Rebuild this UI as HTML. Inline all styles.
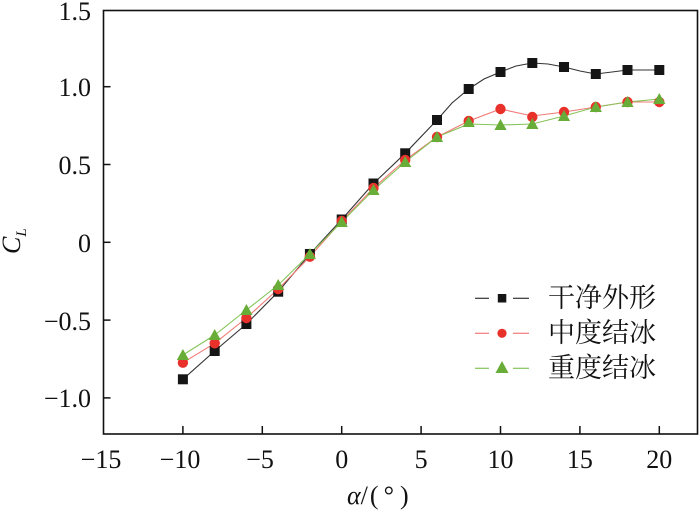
<!DOCTYPE html>
<html><head><meta charset="utf-8"><style>
html,body{margin:0;padding:0;background:#fff;}
svg{display:block;}
.t{font-family:"Liberation Serif","Times New Roman",Times,"Tinos","DejaVu Serif",serif;font-size:26px;fill:#111;}
.lg{font-family:"Liberation Serif","Noto Serif CJK SC","Noto Serif CJK JP","Noto Sans CJK SC",serif;font-size:27px;fill:#111;}
</style></head><body>
<svg width="700" height="510" viewBox="0 0 700 510" xmlns="http://www.w3.org/2000/svg">
<rect width="700" height="510" fill="#fff"/>
<rect x="103.5" y="10.5" width="594" height="423.5" fill="none" stroke="#111" stroke-width="1.6"/>
<g stroke="#111" stroke-width="1.5">
<line x1="103.5" y1="86.7" x2="110.5" y2="86.7"/>
<line x1="103.5" y1="164.5" x2="110.5" y2="164.5"/>
<line x1="103.5" y1="242.3" x2="110.5" y2="242.3"/>
<line x1="103.5" y1="320.1" x2="110.5" y2="320.1"/>
<line x1="103.5" y1="397.9" x2="110.5" y2="397.9"/>
<line x1="182.9" y1="434" x2="182.9" y2="426"/>
<line x1="262.3" y1="434" x2="262.3" y2="426"/>
<line x1="341.7" y1="434" x2="341.7" y2="426"/>
<line x1="421.1" y1="434" x2="421.1" y2="426"/>
<line x1="500.5" y1="434" x2="500.5" y2="426"/>
<line x1="579.9" y1="434" x2="579.9" y2="426"/>
<line x1="659.3" y1="434" x2="659.3" y2="426"/>
</g>
<g class="t" text-anchor="end">
<text x="91" y="20">1.5</text>
<text x="91" y="96">1.0</text>
<text x="91" y="174">0.5</text>
<text x="91" y="252">0</text>
<text x="91" y="330">−0.5</text>
<text x="91" y="407">−1.0</text>
</g>
<g class="t" text-anchor="middle">
<text x="101" y="468">−15</text>
<text x="180" y="468">−10</text>
<text x="260" y="468">−5</text>
<text x="341.7" y="468">0</text>
<text x="421.1" y="468">5</text>
<text x="500.5" y="468">10</text>
<text x="579.9" y="468">15</text>
<text x="659.3" y="468">20</text>
</g>
<text class="t" x="347" y="504"><tspan font-style="italic">α</tspan>/<tspan dx="2">(</tspan><tspan dx="5">°</tspan><tspan dx="6">)</tspan></text>
<text class="t" transform="translate(20,254) rotate(-90)" font-style="italic">C<tspan font-size="15" dy="6">L</tspan></text>

<polyline fill="none" stroke="#333" stroke-width="1.1" points="182.9,379.3 214.7,351 246.4,324 278.2,291.7 309.9,254 341.7,219.5 373.5,183.5 405.2,153.3 437,120 452,103 468.7,89 484,79 500.5,72 516,66 532.3,63 548,64 564,67 580,71 595.8,74 612,72 627.5,70 659.3,70"/>
<polyline fill="none" stroke="#f07a76" stroke-width="1.1" points="182.9,362.7 214.7,343.3 246.4,318 278.2,289 309.9,256.7 341.7,221 373.5,188 405.2,160 437,137 468.7,121 500.5,109 532.3,116 564,112 595.8,107 627.5,102 659.3,102"/>
<polyline fill="none" stroke="#86c45a" stroke-width="1.1" points="182.9,355 214.7,335 246.4,310 278.2,285 309.9,254 341.7,222 373.5,190 405.2,162 437,137 468.7,124 500.5,125 532.3,124 564,116 595.8,107 627.5,102 659.3,99"/>

<g fill="#151515">
<rect x="177.9" y="374.3" width="10" height="10"/>
<rect x="209.7" y="346" width="10" height="10"/>
<rect x="241.4" y="319" width="10" height="10"/>
<rect x="273.2" y="286.7" width="10" height="10"/>
<rect x="304.9" y="249" width="10" height="10"/>
<rect x="336.7" y="214.5" width="10" height="10"/>
<rect x="368.5" y="178.5" width="10" height="10"/>
<rect x="400.2" y="148.3" width="10" height="10"/>
<rect x="432" y="115" width="10" height="10"/>
<rect x="463.7" y="84" width="10" height="10"/>
<rect x="495.5" y="67" width="10" height="10"/>
<rect x="527.3" y="58" width="10" height="10"/>
<rect x="559" y="62" width="10" height="10"/>
<rect x="590.8" y="69" width="10" height="10"/>
<rect x="622.5" y="65" width="10" height="10"/>
<rect x="654.3" y="65" width="10" height="10"/>
</g>
<g fill="#e8312b">
<circle cx="182.9" cy="362.7" r="5.2"/>
<circle cx="214.7" cy="343.3" r="5.2"/>
<circle cx="246.4" cy="318" r="5.2"/>
<circle cx="278.2" cy="289" r="5.2"/>
<circle cx="309.9" cy="256.7" r="5.2"/>
<circle cx="341.7" cy="221" r="5.2"/>
<circle cx="373.5" cy="188" r="5.2"/>
<circle cx="405.2" cy="160" r="5.2"/>
<circle cx="437" cy="137" r="5.2"/>
<circle cx="468.7" cy="121" r="5.2"/>
<circle cx="500.5" cy="109" r="5.2"/>
<circle cx="532.3" cy="117" r="5.2"/>
<circle cx="564" cy="112" r="5.2"/>
<circle cx="595.8" cy="107" r="5.2"/>
<circle cx="627.5" cy="102" r="5.2"/>
<circle cx="659.3" cy="102" r="5.2"/>
</g>
<g fill="#68ad37">
<polygon points="182.9,349 189,360 176.8,360"/>
<polygon points="214.7,329 220.8,340 208.6,340"/>
<polygon points="246.4,304 252.5,315 240.3,315"/>
<polygon points="278.2,279 284.3,290 272.1,290"/>
<polygon points="309.9,248 316,259 303.8,259"/>
<polygon points="341.7,216 347.8,227 335.6,227"/>
<polygon points="373.5,184 379.6,195 367.4,195"/>
<polygon points="405.2,156 411.3,167 399.1,167"/>
<polygon points="437,131 443.1,142 430.9,142"/>
<polygon points="468.7,116 474.8,127 462.6,127"/>
<polygon points="500.5,119 506.6,130 494.4,130"/>
<polygon points="532.3,118 538.4,129 526.2,129"/>
<polygon points="564,110 570.1,121 557.9,121"/>
<polygon points="595.8,101 601.9,112 589.7,112"/>
<polygon points="627.5,96 633.6,107 621.4,107"/>
<polygon points="659.3,93 665.4,104 653.2,104"/>
</g>

<g stroke-width="1.2">
<line x1="475" y1="298.3" x2="489" y2="298.3" stroke="#333"/>
<line x1="513" y1="298.3" x2="529" y2="298.3" stroke="#333"/>
<rect x="497.8" y="294" width="8.5" height="8.5" fill="#151515"/>
<line x1="475" y1="333.3" x2="489" y2="333.3" stroke="#f07a76"/>
<line x1="513" y1="333.3" x2="529" y2="333.3" stroke="#f07a76"/>
<circle cx="502" cy="333.3" r="4.6" fill="#e8312b"/>
<line x1="475" y1="368.3" x2="489" y2="368.3" stroke="#86c45a"/>
<line x1="513" y1="368.3" x2="529" y2="368.3" stroke="#86c45a"/>
<polygon points="502,361 508.5,373 495.5,373" fill="#68ad37"/>
</g>
<g class="lg">
<text x="548" y="307">干净外形</text>
<text x="548" y="342">中度结冰</text>
<text x="548" y="377">重度结冰</text>
</g>
</svg>
</body></html>
